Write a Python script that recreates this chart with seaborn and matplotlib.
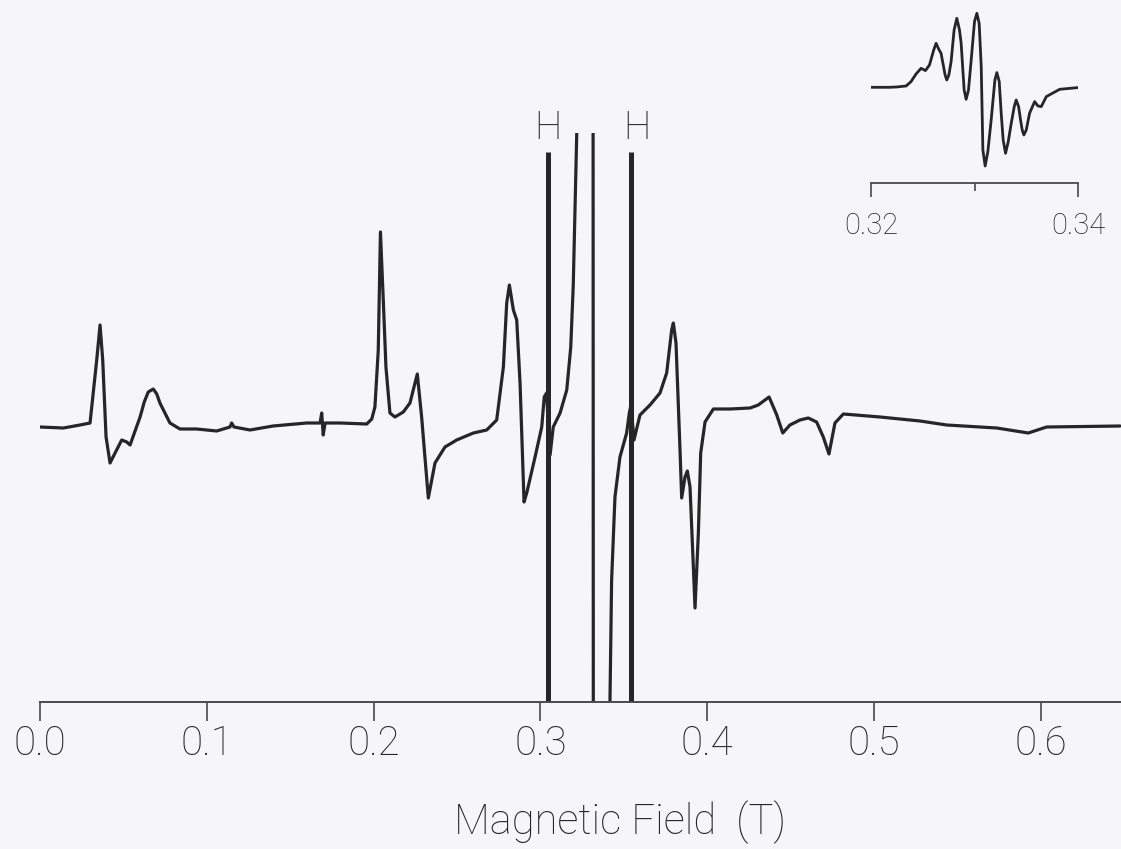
import numpy as np
import pandas as pd
import matplotlib
matplotlib.use('Agg')
import matplotlib.pyplot as plt
import seaborn as sns

# main spectrum (field in T, signal in arb. units)
field = [0.0000, 0.0140, 0.0240, 0.0300, 0.0340, 0.0360, 0.0376, 0.0396, 0.0420, 0.0450,
         0.0490, 0.0520, 0.0540, 0.0600, 0.0625, 0.0649, 0.0679, 0.0700, 0.0719, 0.0779,
         0.0839, 0.0939,
         0.1059, 0.1139, 0.1149, 0.1163, 0.1259, 0.1397, 0.1599, 0.1679, 0.1689, 0.1698,
         0.1709, 0.1799, 0.1959, 0.1989, 0.2008, 0.2028, 0.2041, 0.2058, 0.2074, 0.2098,
         0.2128, 0.2178, 0.2218, 0.2262, 0.2288, 0.2328, 0.2368, 0.2428, 0.2498, 0.2598,
         0.2678, 0.2738, 0.2778, 0.2798, 0.2814, 0.2838, 0.2858, 0.2878, 0.2902, 0.2918,
         0.2968, 0.3008, 0.3023, 0.3037, 0.3058, 0.3077, 0.3118, 0.3158, 0.3182, 0.3197,
         0.3218, 0.3228, 0.3297, 0.3315, 0.3318, 0.3357, 0.3414, 0.3417, 0.3427, 0.3447,
         0.3477, 0.3517, 0.3533, 0.3543, 0.3561, 0.3597, 0.3657, 0.3717, 0.3757, 0.3787,
         0.3797, 0.3813, 0.3837, 0.3847, 0.3867, 0.3881, 0.3897, 0.3917, 0.3927, 0.3947,
         0.3961, 0.3987, 0.4037, 0.4137, 0.4257, 0.4306, 0.4371, 0.4417, 0.4453, 0.4496,
         0.4556, 0.4606, 0.4656, 0.4696, 0.4730, 0.4766, 0.4816, 0.5036, 0.5276, 0.5436,
         0.5736, 0.5925, 0.6035, 0.6475]
signal = [0.01, 0.00, 0.03, 0.05, 0.68, 1.03, 0.68, -0.09, -0.35, -0.25,
          -0.12, -0.14, -0.17, 0.11, 0.26, 0.36, 0.39, 0.34, 0.25, 0.05,
          -0.01, -0.01,
          -0.03, 0.01, 0.05, 0.01, -0.02, 0.02, 0.05, 0.05, 0.15, -0.07,
          0.05, 0.05, 0.04, 0.09, 0.21, 0.78, 1.96, 1.28, 0.61, 0.15,
          0.11, 0.16, 0.25, 0.54, 0.11, -0.70, -0.35, -0.19, -0.12, -0.05,
          -0.02, 0.08, 0.61, 1.25, 1.43, 1.18, 1.08, 0.45, -0.74, -0.65,
          -0.29, 0.01, 0.31, 0.35, -0.27, 0.01, 0.15, 0.38, 0.81, 1.43,
          2.95, 3.98, 7.28, 7.28, -6.72, -7.72, -5.72, -2.74, -1.52, -0.69,
          -0.29, -0.05, 0.15, 0.23, -0.12, 0.13, 0.23, 0.35, 0.55, 0.98,
          1.05, 0.85, -0.22, -0.70, -0.49, -0.43, -0.59, -1.39, -1.80, -1.05,
          -0.25, 0.06, 0.19, 0.19, 0.20, 0.23, 0.31, 0.13, -0.05, 0.03,
          0.08, 0.10, 0.06, -0.09, -0.26, 0.05, 0.14, 0.11, 0.07, 0.03,
          0.00, -0.05, 0.01, 0.02]

# hydrogen atom lines
h_field = [0.3046, 0.3543]
h_top = 2.76
h_label_shift = [0, 4]  # points, the right "H" sits a little right of its line

# inset: expanded central signal
inset_field = [0.31990, 0.32177, 0.32242, 0.32339, 0.32387, 0.32435, 0.32484, 0.32526,
               0.32565, 0.32606, 0.32629, 0.32655, 0.32677, 0.32716, 0.32732, 0.32752,
               0.32774, 0.32803, 0.32829, 0.32855, 0.32871, 0.32900, 0.32919, 0.32942,
               0.32968, 0.33000, 0.33023, 0.33045, 0.33065, 0.33081, 0.33103, 0.33129,
               0.33161, 0.33197, 0.33216, 0.33239, 0.33258, 0.33277, 0.33300, 0.33326,
               0.33355, 0.33384, 0.33403, 0.33426, 0.33445, 0.33461, 0.33477, 0.33500,
               0.33532, 0.33581, 0.33613, 0.33645, 0.33694, 0.33823, 0.34000]
inset_signal = [0.00, 0.00, 0.03, 0.13, 0.57, 1.33, 1.90, 1.67,
                2.23, 3.73, 4.40, 3.80, 3.40, 1.23, 0.73, 1.23,
                2.57, 5.73, 6.90, 5.73, 4.40, -0.27, -1.20, -0.27,
                2.73, 6.57, 7.40, 6.40, 2.07, -6.27, -7.87, -6.43,
                -3.27, 0.73, 1.47, 0.57, -2.60, -5.27, -6.60, -5.43,
                -3.60, -1.93, -1.27, -1.93, -3.27, -4.27, -4.77, -4.27,
                -2.60, -1.43, -1.87, -1.93, -0.93, -0.20, -0.03]

main_ticks = [0.0, 0.1, 0.2, 0.3, 0.4, 0.5, 0.6]
main_labels = ['0.0', '0.1', '0.2', '0.3', '0.4', '0.5', '0.6']

sns.set_theme(style='white')
plt.rcParams['font.family'] = ['Roboto', 'DejaVu Sans']
plt.rcParams['font.weight'] = 'light'

ink = '#262626'
txt = '#242424'
bg = '#f6f5f7'

fig = plt.figure(figsize=(11.21, 8.49), dpi=100, facecolor=bg)
ax = fig.add_axes([40 / 1121, 147 / 849, 1081 / 1121, 569 / 849], facecolor=bg)

df = pd.DataFrame({'field': field, 'signal': signal})
sns.lineplot(data=df, x='field', y='signal', ax=ax, color=ink, lw=2.3,
             sort=False, estimator=None)
ax.vlines(h_field, -2.74, h_top, color=ink, lw=3.6)
for hf, dx in zip(h_field, h_label_shift):
    ax.annotate('H', (hf, 3.0), xytext=(dx, 0), textcoords='offset points',
                ha='center', va='center', fontsize=28, color=txt,
                fontweight='light', annotation_clip=False)

ax.set_xlim(0, 1081 / 1668)
ax.set_ylim(-2.74, 2.95)
for s in ['top', 'left', 'right']:
    ax.spines[s].set_visible(False)
ax.spines['bottom'].set_color('#4a4a4a')
ax.spines['bottom'].set_linewidth(1.4)
ax.set_yticks([])
ax.set_xticks(main_ticks)
ax.set_xticklabels(main_labels)
ax.tick_params(axis='x', direction='out', length=13.5, width=1.2, color='#4a4a4a',
               pad=3, labelsize=29, labelcolor=txt, bottom=True)
ax.set_xlabel('Magnetic Field  (T)', fontsize=30, color=txt, fontweight='light')
ax.xaxis.set_label_coords(0.5365, -0.172)
ax.set_ylabel('')

# inset
axi = fig.add_axes([871 / 1121, 666 / 849, 207 / 1121, 173 / 849])
axi.patch.set_alpha(0)
di = pd.DataFrame({'field': inset_field, 'signal': inset_signal})
sns.lineplot(data=di, x='field', y='signal', ax=axi, color=ink, lw=2.0,
             sort=False, estimator=None)
axi.set_xlim(0.32, 0.34)
axi.set_ylim(-9.57, 7.73)
for s in ['top', 'left', 'right']:
    axi.spines[s].set_visible(False)
axi.spines['bottom'].set_color('#4a4a4a')
axi.spines['bottom'].set_linewidth(1.3)
axi.set_yticks([])
axi.set_xticks([0.32, 0.34])
axi.set_xticklabels(['0.32', '0.34'])
axi.set_xticks([0.33], minor=True)
axi.tick_params(axis='x', which='major', direction='out', length=10, width=1.2,
                color='#4a4a4a', pad=11, labelsize=21, labelcolor=txt, bottom=True)
axi.tick_params(axis='x', which='minor', direction='out', length=6, width=1.2,
                color='#4a4a4a', bottom=True)
axi.set_xlabel('')
axi.set_ylabel('')

fig.savefig('out.png', dpi=100, facecolor=bg)
